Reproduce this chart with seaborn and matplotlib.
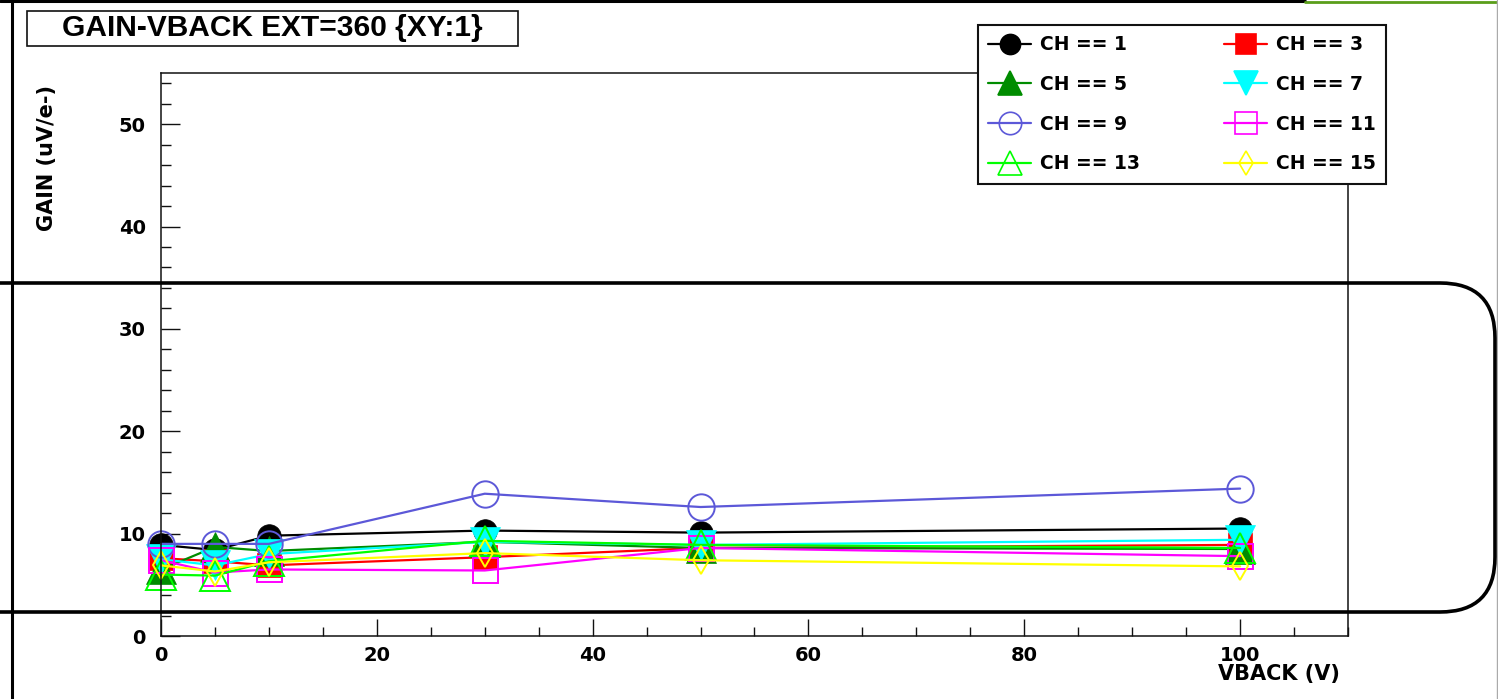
import pandas as pd
import matplotlib
matplotlib.use('Agg')
import matplotlib.pyplot as plt
import seaborn as sns
from matplotlib.lines import Line2D
from matplotlib.patches import FancyBboxPatch, Rectangle
from matplotlib.ticker import MultipleLocator
from matplotlib.transforms import IdentityTransform

# values
vback = [0, 5, 10, 30, 50, 100]
channels = [1, 3, 5, 7, 9, 11, 13, 15]
gain_ch1 = [8.9, 8.4, 9.8, 10.3, 10.1, 10.5]
gain_ch3 = [7.6, 7.3, 6.9, 7.7, 8.6, 8.9]
gain_ch5 = [6.5, 8.7, 8.3, 9.2, 8.6, 8.5]
gain_ch7 = [7.5, 6.9, 8.0, 9.2, 8.9, 9.4]
gain_ch9 = [9.0, 9.0, 9.0, 13.9, 12.6, 14.4]
gain_ch11 = [7.4, 6.2, 6.5, 6.4, 8.6, 7.8]
gain_ch13 = [6.0, 5.9, 7.3, 9.3, 8.9, 8.6]
gain_ch15 = [6.9, 6.3, 7.2, 8.1, 7.4, 6.8]
gains = [gain_ch1, gain_ch3, gain_ch5, gain_ch7, gain_ch9, gain_ch11, gain_ch13, gain_ch15]

# long-form table
df = pd.DataFrame({
    'VBACK': vback * len(channels),
    'GAIN': sum(gains, []),
    'CH': sum([[ch] * len(vback) for ch in channels], []),
})

# ROOT-like marker styles: (color, marker, size, filled)
styles = {
    1: ('black', 'o', 17, True),
    3: ('#ff0000', 's', 17, True),
    5: ('#008c00', '^', 21, True),
    7: ('#00ffff', 'v', 21, True),
    9: ('#5c58d8', 'o', 19, False),
    11: ('#ff00ff', 's', 18, False),
    13: ('#00ff00', '^', 21, False),
    15: ('#ffff00', 'd', 14, False),
}

sns.set_style('white')
plt.rcParams['font.family'] = ['DejaVu Sans']
plt.rcParams['text.color'] = 'black'
plt.rcParams['axes.labelcolor'] = 'black'
plt.rcParams['xtick.color'] = 'black'
plt.rcParams['ytick.color'] = 'black'

W, H = 1498, 699
fig = plt.figure(figsize=(W / 100, H / 100), dpi=100)
ax = fig.add_axes([161 / W, 1 - 636 / H, (1348 - 161) / W, (636 - 73) / H])

for ch in channels:
    color, marker, ms, filled = styles[ch]
    sub = df[df['CH'] == ch]
    sns.lineplot(data=sub, x='VBACK', y='GAIN', ax=ax, color=color, marker=marker,
                 markersize=ms, markerfacecolor=color if filled else 'none',
                 markeredgecolor=color, markeredgewidth=1.4 if not filled else 0.5,
                 linewidth=1.6, clip_on=False, label=f'CH == {ch}', legend=False)

ax.set_xlim(0, 110)
ax.set_ylim(0, 55)
ax.set_xticks([0, 20, 40, 60, 80, 100])
ax.set_yticks([0, 10, 20, 30, 40, 50])
ax.xaxis.set_minor_locator(MultipleLocator(5))
ax.yaxis.set_minor_locator(MultipleLocator(2))
ax.tick_params(axis='both', which='both', direction='in', color='#111111', width=1,
               bottom=True, left=True, top=False, right=False)
ax.tick_params(axis='y', which='major', length=14, pad=11, labelsize=14)
ax.tick_params(axis='y', which='minor', length=7)
ax.tick_params(axis='x', which='major', length=12, pad=7, labelsize=14)
ax.tick_params(axis='x', which='minor', length=6.5)
for lab in ax.get_xticklabels() + ax.get_yticklabels():
    lab.set_fontweight('bold')
for sp in ax.spines.values():
    sp.set_color('#111111')
    sp.set_linewidth(1.1)

ax.set_xlabel('VBACK (V)', fontsize=15, fontweight='bold', loc='right')
ax.set_ylabel('GAIN (uV/e-)', fontsize=15, fontweight='bold', loc='top')
ax.xaxis.set_label_coords(0.993, -0.05)
ax.yaxis.set_label_coords(-0.088, 0.978)

# legend, two columns filled row by row like the ROOT TLegend
handles = []
for ch in channels:
    color, marker, ms, filled = styles[ch]
    handles.append(Line2D([], [], color=color, marker=marker, markersize=ms * 0.85,
                          markerfacecolor=color if filled else 'none',
                          markeredgecolor=color, markeredgewidth=1.2, linewidth=1.6,
                          label=f'CH == {ch}'))
order = [0, 2, 4, 6, 1, 3, 5, 7]
leg = ax.legend(handles=[handles[i] for i in order], ncol=2, loc='upper left',
                bbox_to_anchor=(978 / W, 1 - 25 / H), bbox_transform=fig.transFigure,
                borderaxespad=0, fancybox=False, framealpha=1, edgecolor='#111111',
                prop={'weight': 'bold', 'size': 13.5}, handlelength=2.3,
                handletextpad=0.45, columnspacing=4.5, labelspacing=1.1,
                borderpad=0.55)
leg.get_frame().set_linewidth(1.5)
leg.set_zorder(20)

# title box
fig.add_artist(Rectangle((27, H - 46), 491, 35, transform=IdentityTransform(),
                         facecolor='white', edgecolor='#111111', linewidth=1.2))
fig.text(272 / W, 1 - 28 / H, 'GAIN-VBACK EXT=360 {XY:1}', ha='center', va='center',
         fontsize=21.5, fontweight='bold', family=['Liberation Sans', 'DejaVu Sans'])

# canvas edges from the screenshot
fig.add_artist(Line2D([12, 12], [0, H], transform=IdentityTransform(), color='black', lw=2.2))
fig.add_artist(Line2D([0, 1305], [H - 1, H - 1], transform=IdentityTransform(), color='black', lw=2.2))
fig.add_artist(Line2D([1305, 1497], [H - 2, H - 2], transform=IdentityTransform(), color='#5a9e1a', lw=2))
fig.add_artist(Line2D([1497, 1497], [0, H], transform=IdentityTransform(), color='#aaaaaa', lw=1))

# rounded highlight frame
fig.add_artist(FancyBboxPatch((-100, H - 612), 1595, 329, boxstyle='round,pad=0,rounding_size=55',
                              transform=IdentityTransform(), facecolor='none',
                              edgecolor='black', linewidth=2.6, zorder=30))

fig.savefig('out.png', dpi=100)
